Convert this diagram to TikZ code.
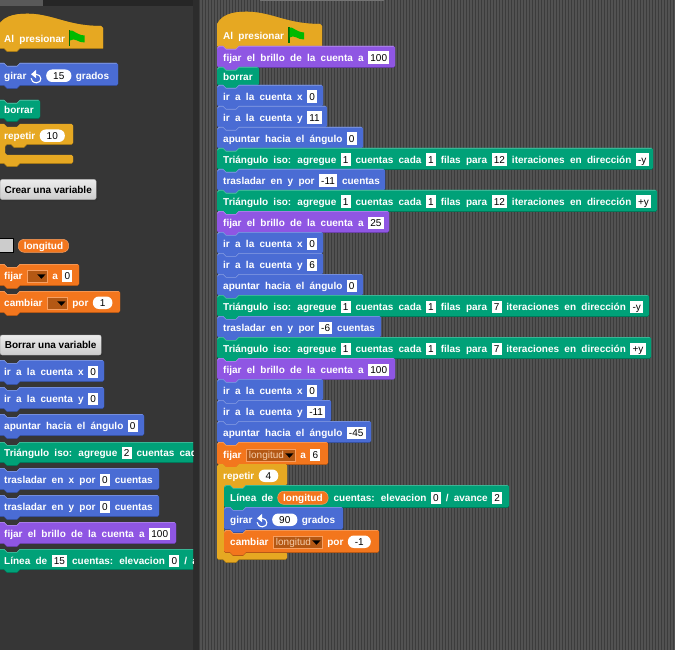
\documentclass[tikz,border=0pt]{standalone}
\usepackage{fontspec}
\setmainfont[WordSpace=1.9]{Liberation Sans}
\newfontfamily\btnfont[WordSpace=1.0]{Liberation Sans}
\definecolor{mot}{RGB}{74,108,212}
\definecolor{pen}{RGB}{0,161,120}
\definecolor{loo}{RGB}{143,86,227}
\definecolor{con}{RGB}{230,168,34}
\definecolor{var}{RGB}{243,118,29}
\definecolor{panel}{RGB}{54,54,54}
\definecolor{sepc}{RGB}{44,44,44}
\definecolor{stripeA}{RGB}{82,82,82}
\definecolor{stripeB}{RGB}{60,60,60}
\definecolor{drop}{RGB}{180,88,20}
\definecolor{dropt}{RGB}{245,205,170}
\definecolor{flagc}{RGB}{0,185,0}
\tikzset{
 lbl/.style={anchor=base west,inner sep=0pt,text=white,font=\fontsize{10}{12}\selectfont\bfseries},
 inbox/.style={anchor=base west,fill=white,text=black,inner xsep=2.2pt,inner ysep=0pt,text height=9.8pt,text depth=2.7pt,font=\fontsize{10}{12}\selectfont},
 ovbox/.style={anchor=base west,fill=white,text=black,rounded corners=6pt,inner xsep=7pt,inner ysep=0pt,text height=9.8pt,text depth=2.7pt,font=\fontsize{10}{12}\selectfont},
 varbox/.style={anchor=base west,fill=var,draw=var!70!white,line width=.5pt,text=white,rounded corners=6pt,inner xsep=5.5pt,inner ysep=0pt,text height=10pt,text depth=3pt,font=\fontsize{10}{12}\selectfont\bfseries},
 dropbox/.style={anchor=base west,fill=drop,draw=var!70!white,line width=.4pt,text=dropt,inner sep=0pt,text height=9.5pt,text depth=3pt,font=\fontsize{10}{12}\selectfont},
 btn/.style={anchor=west,top color=gray!15,bottom color=gray!40,draw=gray!60,rounded corners=2pt,text=black,inner sep=0pt,minimum height=20pt,font=\fontsize{10}{12}\btnfont\bfseries},
 btnshadow/.style={fill=black!80,rounded corners=2pt},
 turnbox/.style={anchor=base west,inner sep=0pt,minimum width=10.5pt,text height=7pt,text depth=3pt},
}
\newcounter{pc}
% block outline
\newcommand\shapepath[4]{(#1,#2+2) -- (#1+2,#2) -- (#1+6,#2) -- (#1+9,#2+3) -- (#1+19,#2+3) -- (#1+22,#2) -- (#1+#3-1.5,#2) -- (#1+#3,#2+1.5) -- (#1+#3,#2+#4-1.5) -- (#1+#3-1.5,#2+#4) -- (#1+22,#2+#4) -- (#1+19,#2+#4+3) -- (#1+9,#2+#4+3) -- (#1+6,#2+#4) -- (#1+1.5,#2+#4) -- (#1,#2+#4-1.5) -- cycle}
\newcommand\B[5]{%
 \fill[#1!72!black] \shapepath{#2}{#3+.8}{#4}{#5};
 \fill[#1] \shapepath{#2}{#3}{#4}{#5};
 \draw[#1!65!white,line width=.6pt] (#2+.3,#3+2.2) -- (#2+2,#3+.3) -- (#2+6,#3+.3) -- (#2+9,#3+3.3) -- (#2+19,#3+3.3) -- (#2+22,#3+.3) -- (#2+#4-1.5,#3+.3);
}
% hat block: x, y(top of body curve), width, bottom
\newcommand\Hat[4]{%
 \fill[con!72!black] (#1,#2+12) .. controls (#1+6,#2) and (#1+22,#2-1) .. (#1+36,#2) .. controls (#1+58,#2+2) and (#1+72,#2+12) .. (#1+#3-2,#2+12) -- (#1+#3,#2+14) -- (#1+#3,#4+.8) -- (#1+22,#4+.8) -- (#1+19,#4+3.8) -- (#1+9,#4+3.8) -- (#1+6,#4+.8) -- (#1,#4+.8) -- cycle;
 \fill[con] (#1,#2+12) .. controls (#1+6,#2) and (#1+22,#2-1) .. (#1+36,#2) .. controls (#1+58,#2+2) and (#1+72,#2+12) .. (#1+#3-2,#2+12) -- (#1+#3,#2+14) -- (#1+#3,#4) -- (#1+22,#4) -- (#1+19,#4+3) -- (#1+9,#4+3) -- (#1+6,#4) -- (#1,#4) -- cycle;
}
% C block: x,top,head width,headbottom,armwidth,footTop,footBottom
\newcommand\Cpath[7]{(#1,#2+2) -- (#1+2,#2) -- (#1+6,#2) -- (#1+9,#2+3) -- (#1+19,#2+3) -- (#1+22,#2) -- (#1+#3-1.5,#2) -- (#1+#3,#2+1.5) -- (#1+#3,#4-1.5) -- (#1+#3-1.5,#4) -- (#1+#5+22,#4) -- (#1+#5+19,#4+3) -- (#1+#5+9,#4+3) -- (#1+#5+6,#4) -- (#1+#5+2,#4) -- (#1+#5,#4+2) -- (#1+#5,#6-2) -- (#1+#5+2,#6) -- (#1+#3-1.5,#6) -- (#1+#3,#6+1.5) -- (#1+#3,#7-1.5) -- (#1+#3-1.5,#7) -- (#1+22,#7) -- (#1+19,#7+3) -- (#1+9,#7+3) -- (#1+6,#7) -- (#1+1.5,#7) -- (#1,#7-1.5) -- cycle}
\newcommand\CB[7]{%
 \fill[con!72!black] \Cpath{#1}{#2+.8}{#3}{#4+.8}{#5}{#6+.8}{#7+.8};
 \fill[con] \Cpath{#1}{#2}{#3}{#4}{#5}{#6}{#7};
}
% text row tools
\newcommand\R[2]{\coordinate (cur) at (#1,#2+4.3);}
\newcommand\T[1]{\stepcounter{pc}\node[lbl] (p\thepc) at (cur) {#1};\coordinate (cur) at ([xshift=4pt]p\thepc.base east);}
\newcommand\I[1]{\stepcounter{pc}\node[inbox] (p\thepc) at (cur) {#1};\coordinate (cur) at ([xshift=4.5pt]p\thepc.base east);}
\newcommand\Ov[1]{\stepcounter{pc}\node[ovbox] (p\thepc) at (cur) {#1};\coordinate (cur) at ([xshift=4pt]p\thepc.base east);}
\newcommand\Va[1]{\stepcounter{pc}\node[varbox] (p\thepc) at (cur) {#1};\coordinate (cur) at ([xshift=5pt]p\thepc.base east);}
\newcommand\Dr[2]{\stepcounter{pc}\node[dropbox] (p\thepc) at (cur) {\makebox[#1pt][l]{\hspace{3pt}#2}};
 \fill[black] ([xshift=-10pt,yshift=1.8pt]p\thepc.east) -- ([xshift=-1.5pt,yshift=1.8pt]p\thepc.east) -- ([xshift=-5.7pt,yshift=-2.7pt]p\thepc.east) -- cycle;
 \coordinate (cur) at ([xshift=5pt]p\thepc.base east);}
\newcommand\Tu{\stepcounter{pc}\node[turnbox] (p\thepc) at (cur) {};
 \begin{scope}[shift={(p\thepc.center)}]
 \draw[white,line width=1.1pt] (0,-3) .. controls (6,-3) and (6.5,5.5) .. (0.5,5.5) .. controls (-3,5.5) and (-5,3) .. (-5,1);
 \fill[white] (-5,-3) -- (0,-7.5) -- (0,1) -- cycle;
 \end{scope}
 \coordinate (cur) at ([xshift=4.5pt]p\thepc.base east);}
\newcommand\Flag[2]{%
 \fill[flagc!60!black] (#1,#2) rectangle (#1+1.6,#2+16);
 \fill[flagc] (#1+1.6,#2+.5) .. controls (#1+5,#2-.5) and (#1+8,#2+5) .. (#1+16,#2+5.5) -- (#1+16,#2+12.5) .. controls (#1+10,#2+13) and (#1+6,#2+7) .. (#1+1.6,#2+10.5) -- cycle;
}
\begin{document}
\begin{tikzpicture}[x=1pt,y=-1pt]
\useasboundingbox (0,0) rectangle (675,650);
% backgrounds
\fill[stripeA] (199,0) rectangle (675,650);
\foreach \k in {0,...,158}{\fill[stripeB] (199+3*\k,0) rectangle +(1,650);}
\fill[sepc] (193,0) rectangle (199,650);
\fill[panel] (0,6) rectangle (193,650);
\fill[black!85] (0,0) rectangle (193,6);
\fill[black!65] (0,0) rectangle (43,6);
\fill[black!55] (260,0) rectangle (384,1);
% left palette
\begin{scope}
\clip (0,6) rectangle (193,650);
\Hat{-2}{14}{105}{48}
\R{4}{38}\T{Al presionar}\Flag{68.5}{30}
\B{mot}{-2}{63}{120}{22}
\R{4}{75}\T{girar}\Tu\Ov{15}\T{grados}
\B{pen}{-2}{100}{42}{18}
\R{4}{109}\T{borrar}
\CB{-2}{124}{75}{144}{7}{155}{163}
\R{4}{135}\T{repetir}\Ov{10}
\fill[btnshadow] (0,180) rectangle (98,201);
\node[btn,minimum width=96pt] (crear) at (0,189.5) {Crear una variable};
\node[fill=gray!40,draw=black,line width=.8pt,minimum width=14pt,minimum height=14pt,inner sep=0pt,anchor=north west] (chk) at (-1,238) {};
\R{18}{245}\Va{longitud}
\B{var}{-2}{264}{81}{21}
\R{4}{275}\T{fijar}\Dr{20}{}\T{a}\I{0}
\B{var}{-2}{291}{122}{21}
\R{4}{302}\T{cambiar}\Dr{20}{}\T{por}\Ov{1}
\fill[btnshadow] (0,336) rectangle (103,356);
\node[btn,minimum width=101pt] (borrarv) at (0,345) {Borrar una variable};
\B{mot}{-2}{360}{106}{21}
\R{4}{371}\T{ir a la cuenta x}\I{0}
\B{mot}{-2}{387}{106}{21}
\R{4}{398}\T{ir a la cuenta y}\I{0}
\B{mot}{-2}{414}{146}{21}
\R{4}{425}\T{apuntar hacia el ángulo}\I{0}
\B{pen}{-2}{442}{240}{20}
\R{4}{452}\T{Triángulo iso: agregue}\I{2}\T{cuentas cada}
\B{mot}{-2}{468}{161}{21}
\R{4}{479}\T{trasladar en x por}\I{0}\T{cuentas}
\B{mot}{-2}{495}{161}{21}
\R{4}{506}\T{trasladar en y por}\I{0}\T{cuentas}
\B{loo}{-2}{522}{178}{21}
\R{4}{533}\T{fijar el brillo de la cuenta a}\I{100}
\B{pen}{-2}{549}{240}{20}
\R{4}{560}\T{Línea de}\I{15}\T{cuentas: elevacion}\I{0}\T{/ avance}
\end{scope}
% script
\Hat{217}{12}{105}{46}
\R{223}{35}\T{Al presionar}\Flag{288}{27}
\B{loo}{217}{46}{178}{21}\R{223}{57}\T{fijar el brillo de la cuenta a}\I{100}
\B{pen}{217}{67}{42}{18}\R{223}{76}\T{borrar}
\B{mot}{217}{85}{106}{21}\R{223}{96}\T{ir a la cuenta x}\I{0}
\B{mot}{217}{106}{110}{21}\R{223}{117}\T{ir a la cuenta y}\I{11}
\B{mot}{217}{127}{146}{21}\R{223}{138}\T{apuntar hacia el ángulo}\I{0}
\B{pen}{217}{148}{436}{21}\R{223}{159}\T{Triángulo iso: agregue}\I{1}\T{cuentas cada}\I{1}\T{filas para}\I{12}\T{iteraciones en dirección}\I{-y}
\B{mot}{217}{169}{168}{21}\R{223}{180}\T{trasladar en y por}\I{-11}\T{cuentas}
\B{pen}{217}{190}{440}{21}\R{223}{201}\T{Triángulo iso: agregue}\I{1}\T{cuentas cada}\I{1}\T{filas para}\I{12}\T{iteraciones en dirección}\I{+y}
\B{loo}{217}{211}{172}{21}\R{223}{222}\T{fijar el brillo de la cuenta a}\I{25}
\B{mot}{217}{232}{106}{21}\R{223}{243}\T{ir a la cuenta x}\I{0}
\B{mot}{217}{253}{106}{21}\R{223}{264}\T{ir a la cuenta y}\I{6}
\B{mot}{217}{274}{146}{21}\R{223}{285}\T{apuntar hacia el ángulo}\I{0}
\B{pen}{217}{295}{432}{21}\R{223}{306}\T{Triángulo iso: agregue}\I{1}\T{cuentas cada}\I{1}\T{filas para}\I{7}\T{iteraciones en dirección}\I{-y}
\B{mot}{217}{316}{164}{21}\R{223}{327}\T{trasladar en y por}\I{-6}\T{cuentas}
\B{pen}{217}{337}{434}{21}\R{223}{348}\T{Triángulo iso: agregue}\I{1}\T{cuentas cada}\I{1}\T{filas para}\I{7}\T{iteraciones en dirección}\I{+y}
\B{loo}{217}{358}{178}{21}\R{223}{369}\T{fijar el brillo de la cuenta a}\I{100}
\B{mot}{217}{379}{106}{21}\R{223}{390}\T{ir a la cuenta x}\I{0}
\B{mot}{217}{400}{114}{21}\R{223}{411}\T{ir a la cuenta y}\I{-11}
\B{mot}{217}{421}{154}{21}\R{223}{432}\T{apuntar hacia el ángulo}\I{-45}
\B{var}{217}{442}{111}{22}\R{223}{454}\T{fijar}\Dr{49}{longitud}\T{a}\I{6}
\CB{217}{464}{70}{485}{7}{552}{559}
\R{223}{475}\T{repetir}\Ov{4}
\B{pen}{224}{485}{285}{22}\R{230}{497}\T{Línea de}\Va{longitud}\T{cuentas: elevacion}\I{0}\T{/ avance}\I{2}
\B{mot}{224}{507}{119}{22}\R{230}{519}\T{girar}\Tu\Ov{90}\T{grados}
\B{var}{224}{530}{155}{22}\R{230}{541}\T{cambiar}\Dr{49}{longitud}\T{por}\Ov{-1}
\end{tikzpicture}
\end{document}
